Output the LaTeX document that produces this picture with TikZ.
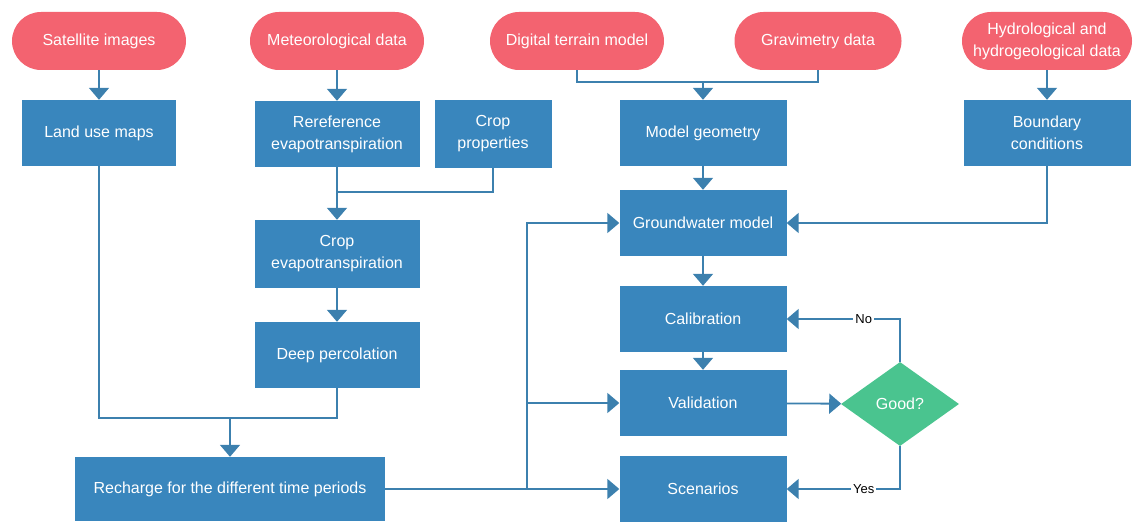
\documentclass[tikz,border=0pt]{standalone}
\usepackage{fontspec}
\setmainfont{Liberation Sans}
\usetikzlibrary{shapes.misc,shapes.geometric,arrows.meta}
\definecolor{datared}{RGB}{243,99,112}
\definecolor{stepblue}{RGB}{57,134,189}
\definecolor{goodgreen}{RGB}{74,196,143}
\definecolor{linkblue}{RGB}{60,128,174}
\begin{document}
\begin{tikzpicture}[x=1pt,y=-1pt,
  src/.style={rounded rectangle, fill=datared, text=white, minimum width=174pt, minimum height=58pt, inner sep=0pt, align=center, font=\fontsize{16}{22}\selectfont},
  proc/.style={rectangle, fill=stepblue, text=white, minimum width=165pt, minimum height=66pt, inner sep=0pt, align=center, font=\fontsize{16}{22}\selectfont},
  test/.style={diamond, fill=goodgreen, text=white, minimum width=118pt, minimum height=84pt, inner sep=0pt, font=\fontsize{16}{19}\selectfont},
  link/.style={draw=linkblue, line width=1.8pt},
  flow/.style={link, -{Triangle[width=20pt,length=12pt]}},
  lbl/.style={fill=white, text=black, font=\fontsize{13}{15}\selectfont, inner sep=2pt}]
\useasboundingbox (0,0) rectangle (1137,529);
% data sources
\node[src] (sat) at (99,41){Satellite images};
\node[src] (met) at (337,41){Meteorological data};
\node[src] (dtm) at (577,41){Digital terrain model};
\node[src, minimum width=167pt] (grav) at (818,41){Gravimetry data};
\node[src, minimum width=170pt] (hydro) at (1047,41){Hydrological and\\hydrogeological data};
% processing steps
\node[proc, minimum width=154pt] (land) at (99,133){Land use maps};
\node[proc] (refet) at (337,134){Rereference\\evapotranspiration};
\node[proc, minimum width=117pt, minimum height=68pt] (cropprop) at (493,134){Crop\\properties};
\node[proc, minimum width=167pt] (geom) at (703,133){Model geometry};
\node[proc, minimum width=167pt] (bound) at (1047,133){Boundary\\conditions};
\node[proc, minimum width=167pt] (gwm) at (703,223){Groundwater model};
\node[proc, minimum height=68pt] (cropet) at (337,254){Crop\\evapotranspiration};
\node[proc] (deepperc) at (337,355){Deep percolation};
\node[proc, minimum width=310pt, minimum height=64pt] (recharge) at (230,489){Recharge for the different time periods};
\node[proc, minimum width=167pt] (calib) at (703,319){Calibration};
\node[proc, minimum width=167pt] (valid) at (703,403){Validation};
\node[proc, minimum width=167pt] (scen) at (703,489){Scenarios};
\node[test] (good) at (900,404){Good?};
% joints
\coordinate (etjoin) at (337,192);
\coordinate (rchjoin) at (230,418);
\coordinate (geojoin) at (703,82);
\coordinate (rbus) at (527,489);
% connectors
\draw[flow](sat) -- (land);
\draw[flow](met) -- (refet);
\draw[link](refet) -- (etjoin);
\draw[link](cropprop) |- (etjoin);
\draw[flow](etjoin) -- (cropet);
\draw[flow](cropet) -- (deepperc);
\draw[link](land) |- (rchjoin) -| (deepperc);
\draw[flow](rchjoin) -- (recharge);
\draw[link](dtm) |- (geojoin);
\draw[link](grav) |- (geojoin);
\draw[flow](geojoin) -- (geom);
\draw[flow](geom) -- (gwm);
\draw[flow](hydro) -- (bound);
\draw[flow](bound) |- (gwm);
\draw[link](recharge) -- (rbus);
\draw[flow](rbus) |- (gwm);
\draw[flow](rbus) |- (valid);
\draw[flow](rbus) -- (scen);
\draw[flow](gwm) -- (calib);
\draw[flow](calib) -- (valid);
\draw[flow](valid) -- (good);
\draw[flow](good.north) |- node[lbl, pos=0.66]{No} (calib);
\draw[flow](good.south) |- node[lbl, pos=0.66]{Yes} (scen);
\end{tikzpicture}
\end{document}
